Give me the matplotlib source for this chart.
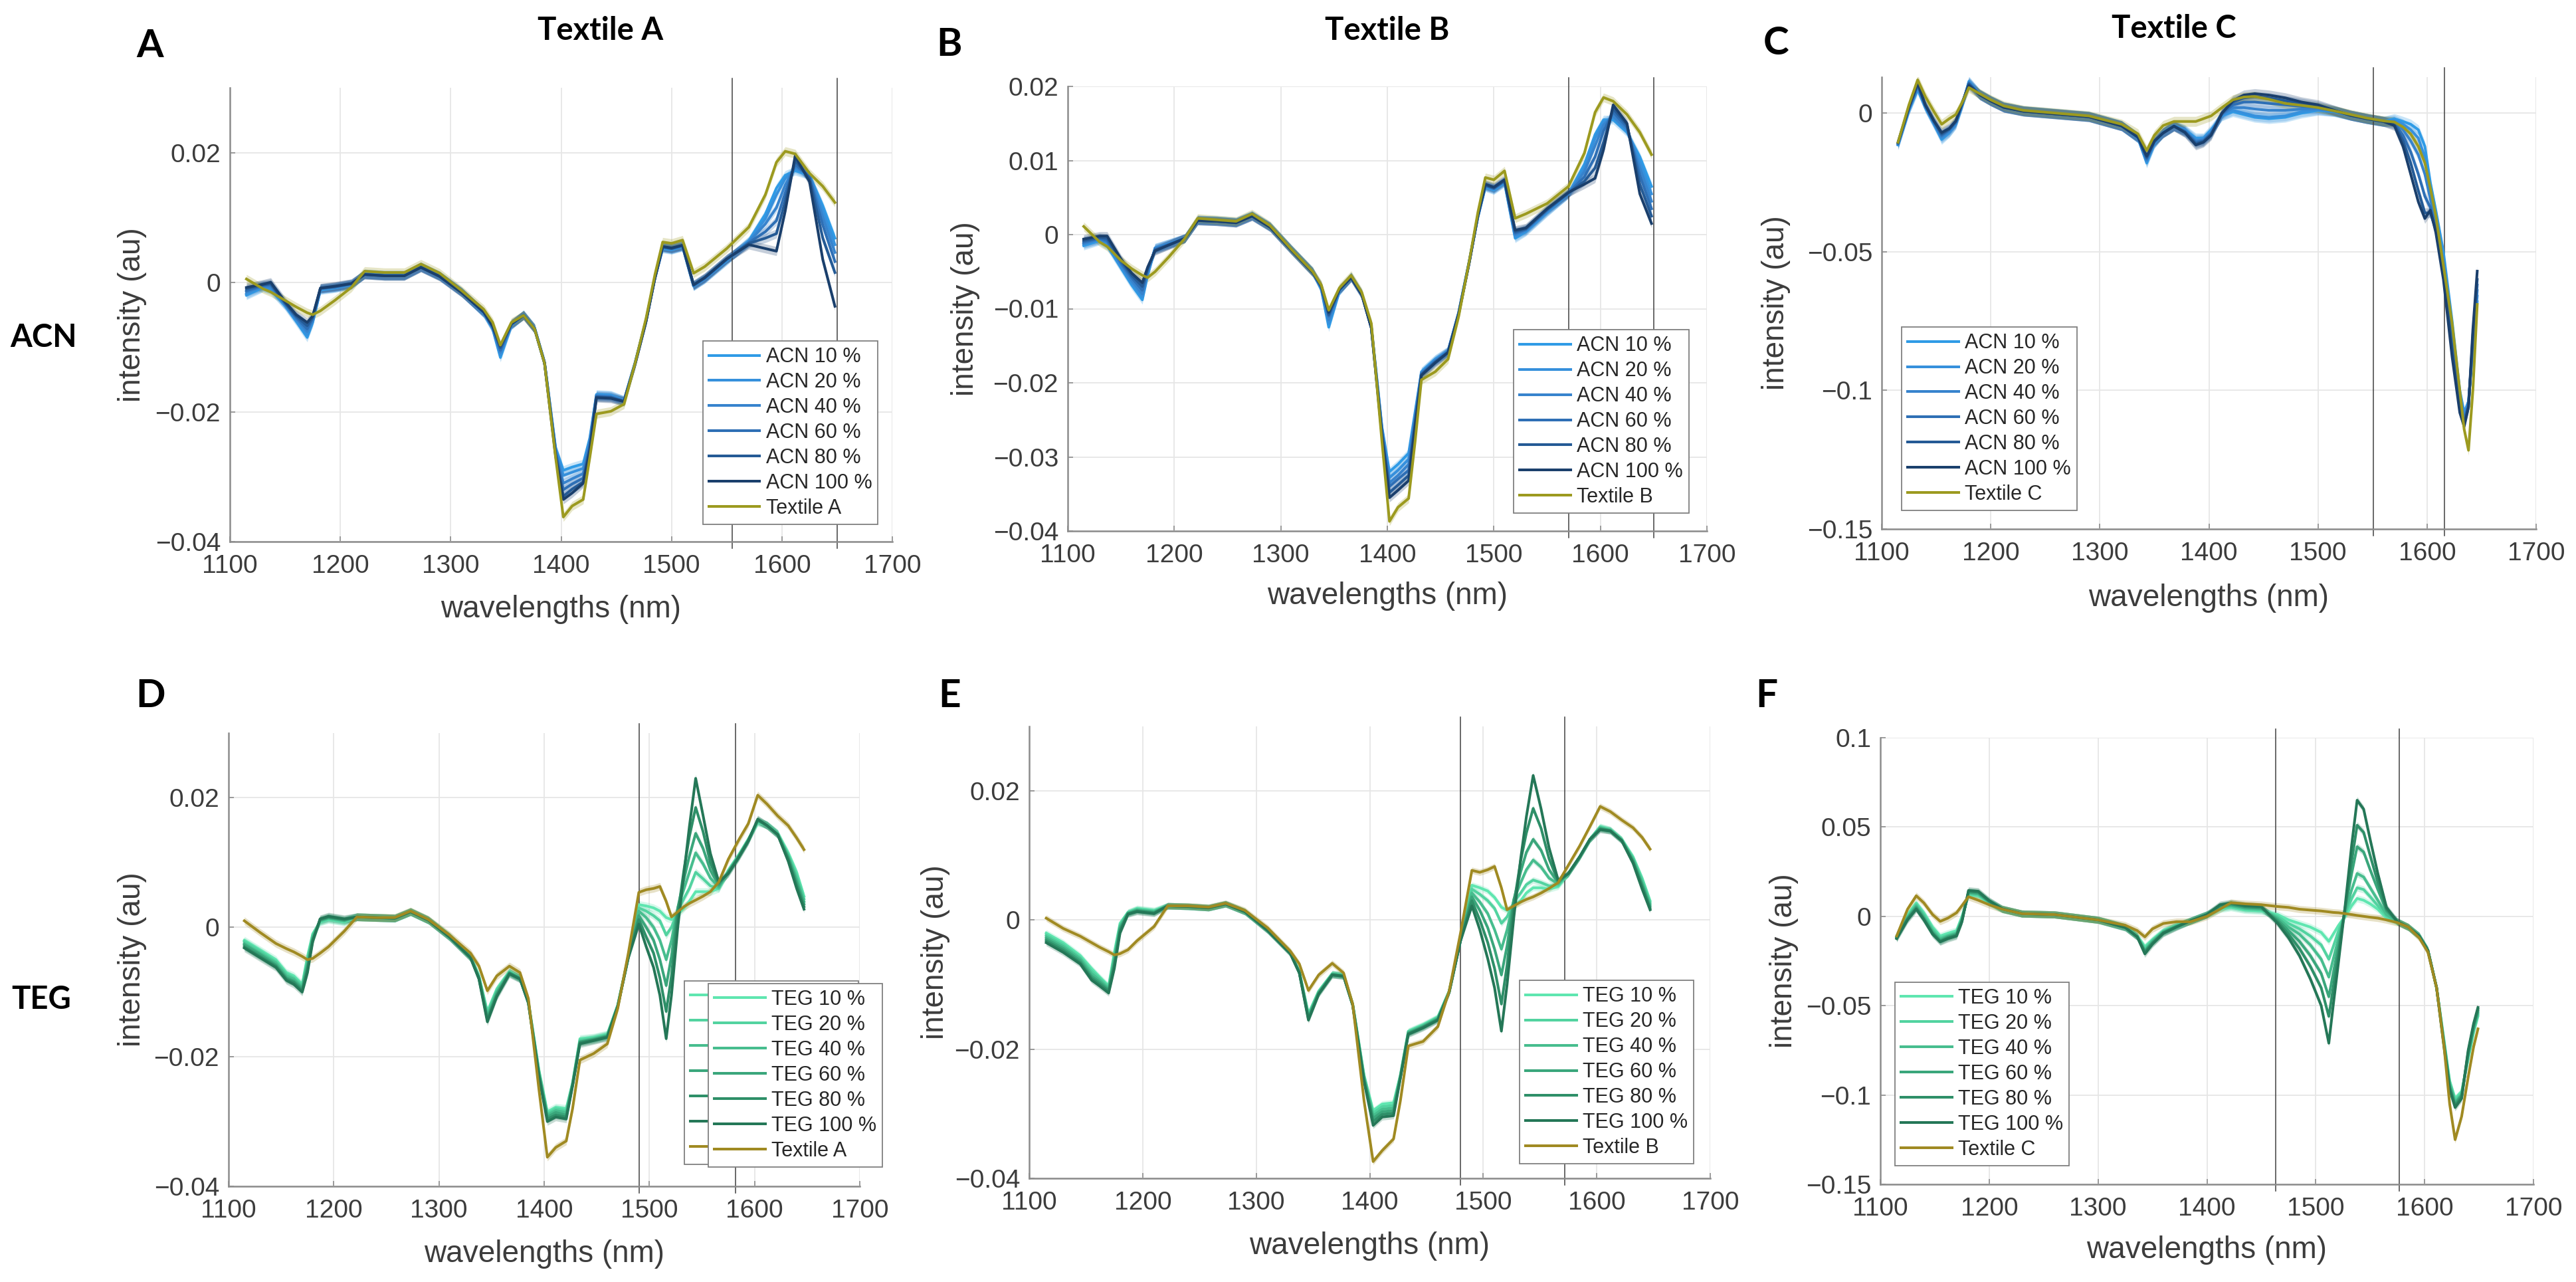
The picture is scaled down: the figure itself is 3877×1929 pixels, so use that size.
import numpy as np
import matplotlib
matplotlib.use('Agg')
import matplotlib.pyplot as plt
from matplotlib.ticker import FuncFormatter

# ------------------------------------------------------------------ data
conc_labels = ['10 %', '20 %', '40 %', '60 %', '80 %', '100 %']
textiles = ['Textile A', 'Textile B', 'Textile C']

wl_AB = [1115, 1130, 1137, 1150, 1160, 1170, 1175, 1182, 1195, 1210,
         1222, 1240, 1258, 1273, 1290, 1310, 1330, 1338, 1345, 1355,
         1366, 1376, 1385, 1395, 1402, 1410, 1420, 1426, 1432, 1445,
         1457, 1467, 1477, 1485, 1492, 1500, 1510, 1520, 1530, 1550,
         1570, 1585, 1595, 1603, 1612, 1625, 1637, 1648]

A_textile = [0.0005, -0.001, -0.0015, -0.0028, -0.0038, -0.0047, -0.005, -0.0044, -0.0028, -0.0008,
             0.0017, 0.0015, 0.0015, 0.0028, 0.0014, -0.0013, -0.0042, -0.0062, -0.0097, -0.0062,
             -0.0051, -0.0072, -0.0125, -0.027, -0.0362, -0.0345, -0.0335, -0.027, -0.0203, -0.0199,
             -0.0188, -0.0125, -0.0055, 0.0012, 0.0062, 0.006, 0.0065, 0.0014, 0.0024, 0.0052,
             0.0085, 0.0135, 0.0185, 0.0202, 0.0198, 0.0168, 0.0148, 0.0123]
A_acn10 = [-0.002, -0.0008, -0.0012, -0.0036, -0.006, -0.0085, -0.0062, -0.0012, -0.0009, -0.0004,
           0.0013, 0.0011, 0.0011, 0.0024, 0.001, -0.0015, -0.0048, -0.0072, -0.0116, -0.0066,
           -0.005, -0.0071, -0.0124, -0.0255, -0.029, -0.0285, -0.028, -0.024, -0.0173, -0.0174,
           -0.0182, -0.0124, -0.0058, 0.0008, 0.0052, 0.005, 0.0055, -0.0006, 0.0005, 0.0033,
           0.0064, 0.0105, 0.0145, 0.0165, 0.0172, 0.0165, 0.0118, 0.0068]
A_acn20 = [-0.0018, -0.0007, -0.001, -0.0035, -0.0058, -0.0081, -0.006, -0.0011, -0.0008, -0.0004,
           0.0013, 0.0011, 0.0011, 0.0024, 0.001, -0.0015, -0.0048, -0.0071, -0.0112, -0.0066,
           -0.005, -0.0071, -0.0124, -0.0257, -0.0298, -0.0293, -0.0287, -0.0244, -0.0174, -0.0175,
           -0.0182, -0.0124, -0.0058, 0.0008, 0.0053, 0.0051, 0.0055, -0.0006, 0.0005, 0.0034,
           0.0063, 0.0098, 0.0135, 0.016, 0.0175, 0.0165, 0.011, 0.0058]
A_acn40 = [-0.0015, -0.0006, -0.0007, -0.0034, -0.0056, -0.0076, -0.0058, -0.001, -0.0008, -0.0003,
           0.0013, 0.0011, 0.0011, 0.0024, 0.001, -0.0015, -0.0047, -0.007, -0.0108, -0.0065,
           -0.005, -0.0071, -0.0124, -0.026, -0.031, -0.0303, -0.0295, -0.0248, -0.0175, -0.0176,
           -0.0183, -0.0125, -0.0058, 0.0008, 0.0054, 0.0051, 0.0056, -0.0005, 0.0006, 0.0035,
           0.0062, 0.009, 0.0115, 0.015, 0.0178, 0.0165, 0.01, 0.0046]
A_acn60 = [-0.0013, -0.0005, -0.0004, -0.0033, -0.0054, -0.0072, -0.0056, -0.001, -0.0007, -0.0003,
           0.0012, 0.001, 0.001, 0.0023, 0.001, -0.0015, -0.0047, -0.0069, -0.0105, -0.0065,
           -0.0051, -0.0072, -0.0124, -0.0262, -0.032, -0.0311, -0.0302, -0.0252, -0.0176, -0.0177,
           -0.0183, -0.0125, -0.0059, 0.0007, 0.0054, 0.0052, 0.0056, -0.0005, 0.0006, 0.0035,
           0.0061, 0.0078, 0.0095, 0.0138, 0.0182, 0.0162, 0.0088, 0.0032]
A_acn80 = [-0.001, -0.0004, -0.0002, -0.0032, -0.0052, -0.0067, -0.0054, -0.0009, -0.0007, -0.0002,
           0.0012, 0.001, 0.001, 0.0023, 0.0009, -0.0016, -0.0046, -0.0068, -0.0101, -0.0064,
           -0.0051, -0.0072, -0.0125, -0.0265, -0.033, -0.0319, -0.0308, -0.0256, -0.0177, -0.0178,
           -0.0184, -0.0126, -0.0059, 0.0007, 0.0055, 0.0052, 0.0057, -0.0004, 0.0007, 0.0036,
           0.006, 0.0068, 0.0075, 0.0125, 0.0188, 0.016, 0.0068, 0.0015]
A_acn100 = [-0.0008, -0.0003, 0.0, -0.003, -0.005, -0.0062, -0.0052, -0.0009, -0.0006, -0.0002,
            0.0012, 0.001, 0.001, 0.0023, 0.0009, -0.0016, -0.0046, -0.0067, -0.0098, -0.0064,
            -0.0051, -0.0072, -0.0125, -0.0268, -0.0335, -0.0325, -0.031, -0.026, -0.0178, -0.0179,
            -0.0184, -0.0126, -0.006, 0.0007, 0.0055, 0.0053, 0.0057, -0.0004, 0.0007, 0.0036,
            0.0058, 0.0052, 0.0048, 0.011, 0.0195, 0.0155, 0.0035, -0.0037]

B_textile = [0.0011, -0.001, -0.0016, -0.0035, -0.0046, -0.0055, -0.0058, -0.005, -0.003, -0.0005,
             0.0022, 0.002, 0.0018, 0.0028, 0.0012, -0.002, -0.005, -0.0068, -0.0102, -0.0072,
             -0.0055, -0.0078, -0.012, -0.028, -0.0387, -0.0368, -0.0356, -0.028, -0.0196, -0.0185,
             -0.0168, -0.011, -0.0035, 0.003, 0.0077, 0.0074, 0.0086, 0.0022, 0.0028, 0.0042,
             0.0065, 0.011, 0.0165, 0.0185, 0.018, 0.0162, 0.0138, 0.0108]
B_acn10 = [-0.0015, -0.0008, -0.0015, -0.0045, -0.0068, -0.0088, -0.0055, -0.0018, -0.0012, -0.0005,
           0.002, 0.0019, 0.0017, 0.0026, 0.0011, -0.002, -0.005, -0.0074, -0.0125, -0.0076,
           -0.0057, -0.008, -0.0125, -0.026, -0.032, -0.031, -0.0295, -0.024, -0.0185, -0.0168,
           -0.0157, -0.0105, -0.0035, 0.0024, 0.0064, 0.006, 0.007, -0.0005, 0.0004, 0.003,
           0.0055, 0.0095, 0.0135, 0.0155, 0.0155, 0.0138, 0.0105, 0.0065]
B_acn20 = [-0.0013, -0.0007, -0.0013, -0.0043, -0.0065, -0.0084, -0.0053, -0.0018, -0.0012, -0.0005,
           0.002, 0.0019, 0.0017, 0.0026, 0.0011, -0.002, -0.005, -0.0073, -0.012, -0.0076,
           -0.0057, -0.008, -0.0125, -0.0262, -0.0328, -0.0318, -0.0303, -0.0244, -0.0186, -0.0169,
           -0.0157, -0.0105, -0.0035, 0.0024, 0.0065, 0.0061, 0.0071, -0.0003, 0.0005, 0.0031,
           0.0055, 0.009, 0.013, 0.0152, 0.0158, 0.014, 0.0098, 0.0055]
B_acn40 = [-0.0012, -0.0006, -0.001, -0.004, -0.0062, -0.008, -0.005, -0.0019, -0.0013, -0.0005,
           0.002, 0.0019, 0.0017, 0.0026, 0.0011, -0.002, -0.005, -0.0072, -0.0115, -0.0075,
           -0.0057, -0.008, -0.0125, -0.0265, -0.0335, -0.0325, -0.031, -0.0248, -0.0187, -0.017,
           -0.0158, -0.0106, -0.0036, 0.0025, 0.0066, 0.0062, 0.0072, 0.0, 0.0006, 0.0032,
           0.0055, 0.0085, 0.012, 0.0148, 0.016, 0.0142, 0.009, 0.0045]
B_acn60 = [-0.001, -0.0005, -0.0008, -0.0038, -0.0058, -0.0075, -0.0048, -0.002, -0.0013, -0.0005,
           0.0019, 0.0018, 0.0016, 0.0025, 0.001, -0.0021, -0.0051, -0.0071, -0.011, -0.0075,
           -0.0057, -0.008, -0.0126, -0.0268, -0.034, -0.033, -0.0318, -0.0252, -0.0188, -0.0171,
           -0.0158, -0.0106, -0.0036, 0.0025, 0.0066, 0.0062, 0.0072, 0.0002, 0.0007, 0.0033,
           0.0056, 0.0078, 0.0105, 0.014, 0.0165, 0.0145, 0.008, 0.0035]
B_acn80 = [-0.0008, -0.0004, -0.0005, -0.0035, -0.0055, -0.007, -0.0046, -0.0021, -0.0014, -0.0005,
           0.0019, 0.0018, 0.0016, 0.0025, 0.001, -0.0021, -0.0051, -0.007, -0.0108, -0.0074,
           -0.0058, -0.0081, -0.0126, -0.027, -0.0348, -0.0338, -0.0325, -0.0256, -0.0189, -0.0172,
           -0.0159, -0.0107, -0.0037, 0.0026, 0.0067, 0.0063, 0.0073, 0.0004, 0.0008, 0.0034,
           0.0056, 0.0072, 0.009, 0.0125, 0.017, 0.0148, 0.0068, 0.0025]
B_acn100 = [-0.0006, -0.0002, -0.0002, -0.0033, -0.0052, -0.0065, -0.0044, -0.0022, -0.0014, -0.0005,
            0.0019, 0.0018, 0.0016, 0.0025, 0.001, -0.0021, -0.0051, -0.0069, -0.0105, -0.0074,
            -0.0058, -0.0081, -0.0126, -0.0272, -0.0355, -0.0345, -0.0332, -0.026, -0.019, -0.0173,
            -0.0159, -0.0107, -0.0037, 0.0026, 0.0068, 0.0064, 0.0074, 0.0006, 0.0009, 0.0035,
            0.0057, 0.0068, 0.0076, 0.0115, 0.0175, 0.015, 0.0055, 0.0015]

wl_C = [1115, 1125, 1133, 1140, 1148, 1155, 1162, 1168, 1174, 1180,
        1190, 1200, 1212, 1230, 1260, 1290, 1320, 1335, 1343, 1350,
        1358, 1368, 1378, 1388, 1395, 1402, 1412, 1422, 1432, 1442,
        1455, 1470, 1485, 1500, 1515, 1530, 1545, 1560, 1570, 1578,
        1585, 1592, 1598, 1603, 1608, 1615, 1623, 1630, 1634, 1638,
        1642, 1646]
C_textile = [-0.0105, 0.003, 0.012, 0.006, 0.0005, -0.004, -0.002, -0.0005, 0.004, 0.0092,
             0.007, 0.0048, 0.0026, 0.001, 0.0, -0.001, -0.004, -0.0075, -0.0135, -0.008,
             -0.0045, -0.003, -0.003, -0.003, -0.002, -0.001, 0.002, 0.0048, 0.0058, 0.006,
             0.005, 0.0035, 0.0028, 0.002, 0.0008, -0.0005, -0.0018, -0.0028, -0.0032, -0.005,
             -0.0075, -0.012, -0.018, -0.027, -0.037, -0.055, -0.076, -0.1, -0.114, -0.1216,
             -0.1, -0.069]
C_acn10 = [-0.0115, 0.001, 0.0085, 0.002, -0.004, -0.0095, -0.007, -0.004, 0.003, 0.0115,
           0.0068, 0.0045, 0.0022, 0.0008, -0.0002, -0.0012, -0.0045, -0.009, -0.018, -0.011,
           -0.007, -0.0045, -0.006, -0.009, -0.009, -0.006, -0.001, 0.0005, -0.0005, -0.0015,
           -0.002, -0.0015, 0.0, 0.001, 0.0005, -0.0008, -0.002, -0.003, -0.002, -0.003,
           -0.004, -0.006, -0.012, -0.025, -0.035, -0.05, -0.075, -0.1, -0.108, -0.104,
           -0.085, -0.068]
C_acn20 = [-0.0113, 0.0012, 0.009, 0.0022, -0.0038, -0.009, -0.0068, -0.0038, 0.0032, 0.0112,
           0.0068, 0.0045, 0.0022, 0.0008, -0.0002, -0.0012, -0.0045, -0.009, -0.0175, -0.0108,
           -0.007, -0.0045, -0.0062, -0.0095, -0.0093, -0.0065, -0.0008, 0.001, 0.0, -0.001,
           -0.0015, -0.001, 0.0005, 0.0012, 0.0006, -0.0008, -0.002, -0.003, -0.0025, -0.004,
           -0.006, -0.009, -0.016, -0.028, -0.037, -0.052, -0.077, -0.101, -0.109, -0.104,
           -0.084, -0.066]
C_acn40 = [-0.0111, 0.0015, 0.0095, 0.0025, -0.0035, -0.0085, -0.0065, -0.0035, 0.0034, 0.011,
           0.0067, 0.0045, 0.0022, 0.0008, -0.0002, -0.0012, -0.0045, -0.0088, -0.017, -0.0106,
           -0.007, -0.0046, -0.0064, -0.01, -0.0096, -0.007, -0.0005, 0.002, 0.002, 0.0015,
           0.001, 0.001, 0.0015, 0.0015, 0.0007, -0.0008, -0.002, -0.003, -0.003, -0.006,
           -0.01, -0.015, -0.022, -0.031, -0.039, -0.054, -0.079, -0.102, -0.11, -0.105,
           -0.083, -0.064]
C_acn60 = [-0.0109, 0.0018, 0.01, 0.0027, -0.0032, -0.008, -0.006, -0.0033, 0.0036, 0.0108,
           0.0067, 0.0044, 0.0021, 0.0007, -0.0003, -0.0013, -0.0046, -0.0088, -0.0165, -0.0104,
           -0.0071, -0.0046, -0.0066, -0.0105, -0.0099, -0.0073, -0.0003, 0.003, 0.004, 0.004,
           0.0035, 0.003, 0.0025, 0.002, 0.0008, -0.0008, -0.002, -0.003, -0.0035, -0.008,
           -0.014, -0.022, -0.03, -0.034, -0.041, -0.056, -0.082, -0.104, -0.111, -0.105,
           -0.082, -0.062]
C_acn80 = [-0.0107, 0.002, 0.0105, 0.0029, -0.003, -0.0075, -0.0058, -0.003, 0.0038, 0.0105,
           0.0066, 0.0044, 0.0021, 0.0007, -0.0003, -0.0013, -0.0046, -0.0087, -0.016, -0.0102,
           -0.0071, -0.0047, -0.0068, -0.011, -0.0102, -0.0076, 0.0, 0.004, 0.0055, 0.006,
           0.0055, 0.0045, 0.0035, 0.0025, 0.0009, -0.0008, -0.002, -0.003, -0.004, -0.01,
           -0.018, -0.028, -0.036, -0.036, -0.042, -0.058, -0.085, -0.106, -0.112, -0.106,
           -0.08, -0.06]
C_acn100 = [-0.0105, 0.0022, 0.011, 0.003, -0.0028, -0.007, -0.0055, -0.0028, 0.004, 0.01,
            0.0066, 0.0044, 0.0021, 0.0007, -0.0003, -0.0013, -0.0046, -0.0087, -0.0155, -0.01,
            -0.0072, -0.0047, -0.007, -0.0115, -0.0105, -0.008, 0.0, 0.0045, 0.0065, 0.007,
            0.0065, 0.0055, 0.004, 0.003, 0.001, -0.0008, -0.002, -0.003, -0.0045, -0.012,
            -0.022, -0.032, -0.038, -0.035, -0.043, -0.06, -0.088, -0.108, -0.113, -0.106,
            -0.078, -0.057]

wl_DE = [1115, 1130, 1145, 1155, 1162, 1170, 1175, 1180, 1187, 1195,
         1210, 1222, 1240, 1258, 1273, 1290, 1310, 1330, 1338, 1346,
         1355, 1367, 1377, 1385, 1395, 1403, 1411, 1421, 1427, 1434,
         1447, 1460, 1470, 1480, 1490, 1497, 1504, 1510, 1516, 1521,
         1527, 1533, 1538, 1544, 1551, 1558, 1566, 1575, 1585, 1594,
         1603, 1612, 1622, 1632, 1640, 1647]

D_textile = [0.001, -0.0008, -0.0025, -0.0033, -0.0038, -0.0045, -0.005, -0.0048, -0.004, -0.003,
             -0.0006, 0.0016, 0.0015, 0.0015, 0.0025, 0.0012, -0.0012, -0.004, -0.006, -0.0098,
             -0.0075, -0.006, -0.007, -0.011, -0.025, -0.0355, -0.034, -0.033, -0.028, -0.0205,
             -0.0195, -0.018, -0.0125, -0.004, 0.0054, 0.0058, 0.006, 0.0063, 0.004, 0.0016,
             0.0024, 0.0032, 0.0037, 0.0042, 0.0048, 0.0055, 0.007, 0.0105, 0.0135, 0.016,
             0.0204, 0.019, 0.0172, 0.0157, 0.0138, 0.012]
D_teg10 = [-0.002, -0.0035, -0.005, -0.007, -0.0075, -0.0088, -0.0045, -0.001, 0.0008, 0.0012,
           0.0008, 0.0016, 0.0015, 0.0014, 0.0024, 0.0011, -0.0014, -0.0045, -0.0075, -0.013,
           -0.0095, -0.0068, -0.0078, -0.0115, -0.022, -0.0285, -0.0278, -0.028, -0.024, -0.0172,
           -0.017, -0.0165, -0.012, -0.0045, 0.0035, 0.0033, 0.003, 0.0025, 0.0015, 0.0012,
           0.002, 0.003, 0.004, 0.0055, 0.0055, 0.0055, 0.006, 0.0088, 0.0112, 0.0136,
           0.0162, 0.0158, 0.0145, 0.0115, 0.0085, 0.0048]
D_teg20 = [-0.0022, -0.0037, -0.0053, -0.0072, -0.0078, -0.009, -0.005, -0.0012, 0.0009, 0.0013,
           0.0009, 0.0016, 0.0015, 0.0014, 0.0024, 0.0011, -0.0014, -0.0045, -0.0076, -0.0133,
           -0.0097, -0.0069, -0.0078, -0.0115, -0.0222, -0.0288, -0.028, -0.0283, -0.0241, -0.0174,
           -0.0171, -0.0166, -0.012, -0.0045, 0.003, 0.0025, 0.0018, 0.001, -0.0012, 0.0,
           0.0025, 0.0045, 0.006, 0.0085, 0.0075, 0.0064, 0.006, 0.0087, 0.0111, 0.0135,
           0.0163, 0.0158, 0.0145, 0.0112, 0.008, 0.0044]
D_teg40 = [-0.0025, -0.004, -0.0055, -0.0075, -0.008, -0.0093, -0.0055, -0.0015, 0.001, 0.0014,
           0.001, 0.0016, 0.0015, 0.0014, 0.0024, 0.0011, -0.0014, -0.0046, -0.0077, -0.0137,
           -0.01, -0.007, -0.0078, -0.0116, -0.0224, -0.029, -0.0283, -0.0286, -0.0242, -0.0176,
           -0.0172, -0.0167, -0.0121, -0.0045, 0.0025, 0.0015, 0.0, -0.002, -0.005, -0.002,
           0.003, 0.006, 0.0085, 0.0115, 0.0098, 0.0076, 0.0062, 0.0086, 0.011, 0.0135,
           0.0164, 0.0158, 0.0144, 0.011, 0.0075, 0.004]
D_teg60 = [-0.0027, -0.0042, -0.0058, -0.0078, -0.0083, -0.0095, -0.006, -0.0018, 0.0011, 0.0015,
           0.0011, 0.0016, 0.0015, 0.0014, 0.0024, 0.0011, -0.0015, -0.0046, -0.0078, -0.014,
           -0.0102, -0.007, -0.0079, -0.0116, -0.0226, -0.0293, -0.0286, -0.029, -0.0243, -0.0177,
           -0.0173, -0.0168, -0.0121, -0.0046, 0.0018, 0.0, -0.002, -0.005, -0.009, -0.0045,
           0.003, 0.0075, 0.011, 0.0145, 0.0122, 0.0088, 0.0065, 0.0085, 0.011, 0.0134,
           0.0165, 0.0157, 0.0144, 0.0108, 0.007, 0.0036]
D_teg80 = [-0.003, -0.0045, -0.006, -0.008, -0.0085, -0.0098, -0.0065, -0.002, 0.0012, 0.0016,
           0.0012, 0.0016, 0.0015, 0.0014, 0.0024, 0.0011, -0.0015, -0.0047, -0.0079, -0.0143,
           -0.0105, -0.0071, -0.0079, -0.0117, -0.0228, -0.0296, -0.029, -0.0293, -0.0244, -0.0178,
           -0.0174, -0.0169, -0.0122, -0.0046, 0.0012, -0.0015, -0.004, -0.0078, -0.013, -0.0075,
           0.002, 0.009, 0.014, 0.0185, 0.0148, 0.01, 0.0068, 0.0084, 0.0109, 0.0134,
           0.0166, 0.0157, 0.0143, 0.0105, 0.0065, 0.0032]
D_teg100 = [-0.0032, -0.0047, -0.0062, -0.0082, -0.0088, -0.01, -0.007, -0.0022, 0.0013, 0.0017,
            0.0013, 0.0016, 0.0015, 0.0014, 0.0024, 0.0011, -0.0015, -0.0047, -0.008, -0.0146,
            -0.0107, -0.0072, -0.008, -0.0117, -0.023, -0.03, -0.0293, -0.0296, -0.0245, -0.018,
            -0.0175, -0.017, -0.0122, -0.0047, 0.0005, -0.003, -0.0062, -0.0105, -0.0172, -0.0105,
            0.0, 0.0085, 0.0155, 0.023, 0.0173, 0.0114, 0.007, 0.0083, 0.0108, 0.0133,
            0.0167, 0.0157, 0.0143, 0.0102, 0.006, 0.0028]

E_textile = [0.0003, -0.0013, -0.0025, -0.0035, -0.0042, -0.0049, -0.0054, -0.0052, -0.0046, -0.0032,
             -0.001, 0.0022, 0.0022, 0.002, 0.0026, 0.0015, -0.0012, -0.0048, -0.0068, -0.0109,
             -0.0085, -0.0067, -0.0082, -0.013, -0.028, -0.0374, -0.0357, -0.0339, -0.028, -0.0195,
             -0.0188, -0.0165, -0.011, -0.002, 0.0077, 0.0074, 0.0078, 0.0083, 0.005, 0.0016,
             0.0022, 0.0028, 0.0032, 0.0036, 0.0042, 0.0049, 0.0058, 0.0085, 0.0115, 0.0145,
             0.0176, 0.0168, 0.0155, 0.0143, 0.0128, 0.011]
E_teg10 = [-0.002, -0.0035, -0.0055, -0.0075, -0.0088, -0.0102, -0.005, -0.0005, 0.0012, 0.0018,
           0.0015, 0.0022, 0.0021, 0.0019, 0.0025, 0.0013, -0.0015, -0.005, -0.008, -0.0145,
           -0.011, -0.0083, -0.0085, -0.013, -0.024, -0.0295, -0.0285, -0.0283, -0.024, -0.0172,
           -0.0162, -0.015, -0.011, -0.003, 0.0054, 0.005, 0.0045, 0.0035, 0.002, 0.0015,
           0.0022, 0.003, 0.0042, 0.005, 0.005, 0.0048, 0.0052, 0.0072, 0.0098, 0.0125,
           0.0145, 0.014, 0.0125, 0.0098, 0.0065, 0.003]
E_teg20 = [-0.0023, -0.0038, -0.0058, -0.0079, -0.009, -0.0104, -0.0055, -0.0008, 0.0012, 0.0017,
           0.0014, 0.0022, 0.0021, 0.0019, 0.0025, 0.0013, -0.0015, -0.005, -0.008, -0.0147,
           -0.0111, -0.0083, -0.0085, -0.013, -0.0242, -0.0299, -0.0289, -0.0287, -0.0241, -0.0173,
           -0.0163, -0.0151, -0.011, -0.003, 0.0048, 0.004, 0.003, 0.0018, -0.0005, 0.0005,
           0.0028, 0.0042, 0.0055, 0.0062, 0.0058, 0.0053, 0.0054, 0.0072, 0.0098, 0.0125,
           0.0144, 0.014, 0.0125, 0.0096, 0.0062, 0.0027]
E_teg40 = [-0.0026, -0.0041, -0.006, -0.0083, -0.0093, -0.0106, -0.006, -0.001, 0.0011, 0.0016,
           0.0013, 0.0022, 0.0021, 0.0019, 0.0025, 0.0013, -0.0015, -0.005, -0.0081, -0.0149,
           -0.0112, -0.0084, -0.0086, -0.0131, -0.0244, -0.0303, -0.0293, -0.0291, -0.0242, -0.0174,
           -0.0164, -0.0152, -0.0111, -0.0031, 0.0042, 0.0028, 0.001, -0.0015, -0.0045, -0.0015,
           0.0032, 0.0058, 0.0078, 0.0093, 0.0082, 0.0065, 0.0056, 0.0072, 0.0098, 0.0125,
           0.0143, 0.0139, 0.0124, 0.0094, 0.0058, 0.0024]
E_teg60 = [-0.0029, -0.0044, -0.0063, -0.0087, -0.0096, -0.0108, -0.0065, -0.0013, 0.001, 0.0015,
           0.0012, 0.0022, 0.0021, 0.0019, 0.0025, 0.0013, -0.0016, -0.0051, -0.0081, -0.0151,
           -0.0113, -0.0084, -0.0086, -0.0131, -0.0246, -0.0307, -0.0297, -0.0295, -0.0243, -0.0175,
           -0.0165, -0.0153, -0.0111, -0.0031, 0.0036, 0.0015, -0.0012, -0.0045, -0.0085, -0.004,
           0.0032, 0.0075, 0.0105, 0.0125, 0.0108, 0.0078, 0.0058, 0.0072, 0.0098, 0.0125,
           0.0142, 0.0139, 0.0124, 0.0092, 0.0055, 0.0021]
E_teg80 = [-0.0032, -0.0047, -0.0066, -0.009, -0.0099, -0.011, -0.007, -0.0016, 0.001, 0.0014,
           0.0011, 0.0022, 0.0021, 0.0019, 0.0025, 0.0013, -0.0016, -0.0051, -0.0082, -0.0153,
           -0.0114, -0.0085, -0.0087, -0.0132, -0.0248, -0.0312, -0.0301, -0.0299, -0.0244, -0.0176,
           -0.0166, -0.0154, -0.0112, -0.0032, 0.003, 0.0, -0.0035, -0.0075, -0.013, -0.007,
           0.0025, 0.0092, 0.0135, 0.0173, 0.0142, 0.0095, 0.006, 0.0072, 0.0098, 0.0125,
           0.0141, 0.0138, 0.0123, 0.009, 0.0052, 0.0018]
E_teg100 = [-0.0035, -0.005, -0.0068, -0.0093, -0.0102, -0.0113, -0.0075, -0.002, 0.0009, 0.0013,
            0.001, 0.0022, 0.0021, 0.0019, 0.0025, 0.0013, -0.0016, -0.0052, -0.0082, -0.0155,
            -0.0115, -0.0085, -0.0087, -0.0132, -0.025, -0.0318, -0.0305, -0.0303, -0.0245, -0.0177,
            -0.0167, -0.0155, -0.0112, -0.0032, 0.0022, -0.0015, -0.006, -0.0105, -0.0172, -0.01,
            0.0005, 0.0095, 0.016, 0.0224, 0.0172, 0.0112, 0.0062, 0.0072, 0.0098, 0.0125,
            0.014, 0.0138, 0.0123, 0.0088, 0.0048, 0.0016]

wl_F = [1115, 1125, 1133, 1140, 1148, 1155, 1162, 1170, 1175, 1181,
        1190, 1200, 1212, 1230, 1260, 1300, 1325, 1336, 1343, 1350,
        1360, 1372, 1385, 1400, 1412, 1422, 1435, 1450,
        1465, 1475, 1485, 1495, 1505, 1512, 1516, 1521, 1527, 1533, 1538, 1544,
        1550, 1557, 1565, 1575, 1585,
        1595, 1603, 1611, 1618, 1623, 1628, 1634, 1640, 1645, 1649]
F_textile = [-0.011, 0.004, 0.0115, 0.0075, 0.001, -0.0028, -0.001, 0.002, 0.006, 0.011,
             0.009, 0.0065, 0.004, 0.0015, 0.001, -0.002, -0.005, -0.008, -0.0115, -0.007,
             -0.004, -0.003, -0.003, 0.0, 0.004, 0.0076, 0.007, 0.0065,
             0.0055, 0.005, 0.004, 0.0035, 0.003, 0.0025, 0.0022, 0.002, 0.0015, 0.001, 0.0005, 0.0,
             -0.0005, -0.001, -0.002, -0.0035, -0.006,
             -0.012, -0.02, -0.04, -0.074, -0.105, -0.125, -0.112, -0.09, -0.073, -0.063]
F_teg10 = [-0.011, 0.001, 0.0075, 0.002, -0.006, -0.011, -0.0095, -0.008, 0.0, 0.012,
           0.0115, 0.0075, 0.004, 0.0015, 0.001, -0.002, -0.006, -0.011, -0.017, -0.013,
           -0.008, -0.005, -0.0025, 0.001, 0.004, 0.005, 0.0035, 0.003,
           0.001, -0.002, -0.004, -0.006, -0.009, -0.014, -0.01, -0.005, 0.0, 0.006, 0.01, 0.009,
           0.007, 0.004, -0.001, -0.003, -0.006,
           -0.011, -0.019, -0.04, -0.07, -0.092, -0.102, -0.098, -0.08, -0.065, -0.056]
F_teg20 = [-0.0113, 0.0, 0.0068, 0.001, -0.007, -0.012, -0.0105, -0.009, -0.001, 0.0125,
           0.012, 0.0078, 0.004, 0.0015, 0.001, -0.002, -0.006, -0.011, -0.018, -0.0135,
           -0.0083, -0.0052, -0.0025, 0.001, 0.0045, 0.0055, 0.004, 0.0035,
           0.0, -0.004, -0.007, -0.011, -0.016, -0.024, -0.017, -0.008, 0.001, 0.01, 0.016, 0.015,
           0.011, 0.006, 0.0, -0.003, -0.006,
           -0.011, -0.019, -0.04, -0.071, -0.093, -0.103, -0.099, -0.079, -0.064, -0.055]
F_teg40 = [-0.0116, -0.0005, 0.006, 0.0, -0.008, -0.0128, -0.011, -0.0095, -0.0015, 0.013,
           0.0125, 0.008, 0.004, 0.0015, 0.001, -0.002, -0.006, -0.0112, -0.019, -0.014,
           -0.0086, -0.0054, -0.0025, 0.001, 0.005, 0.006, 0.0045, 0.004,
           -0.001, -0.006, -0.01, -0.016, -0.024, -0.034, -0.024, -0.012, 0.002, 0.015, 0.024, 0.022,
           0.016, 0.009, 0.001, -0.003, -0.006,
           -0.011, -0.019, -0.04, -0.072, -0.094, -0.104, -0.1, -0.078, -0.063, -0.054]
F_teg60 = [-0.0119, -0.001, 0.0052, -0.001, -0.009, -0.0135, -0.0115, -0.01, -0.002, 0.0135,
           0.013, 0.0082, 0.0041, 0.0015, 0.001, -0.002, -0.0062, -0.0113, -0.0195, -0.0145,
           -0.0089, -0.0056, -0.0025, 0.001, 0.0055, 0.0065, 0.005, 0.0045,
           -0.002, -0.008, -0.014, -0.022, -0.032, -0.045, -0.032, -0.016, 0.004, 0.024, 0.039, 0.036,
           0.026, 0.015, 0.003, -0.003, -0.006,
           -0.011, -0.019, -0.04, -0.072, -0.095, -0.105, -0.1, -0.077, -0.062, -0.053]
F_teg80 = [-0.0122, -0.0015, 0.0045, -0.0015, -0.0095, -0.014, -0.012, -0.0105, -0.0025, 0.014,
           0.0135, 0.0085, 0.0041, 0.0015, 0.001, -0.002, -0.0062, -0.0114, -0.02, -0.015,
           -0.0092, -0.0058, -0.0025, 0.001, 0.006, 0.007, 0.0055, 0.005,
           -0.003, -0.01, -0.018, -0.028, -0.04, -0.056, -0.04, -0.02, 0.005, 0.031, 0.051, 0.047,
           0.034, 0.019, 0.004, -0.003, -0.006,
           -0.011, -0.019, -0.04, -0.073, -0.096, -0.106, -0.101, -0.076, -0.061, -0.052]
F_teg100 = [-0.0125, -0.002, 0.004, -0.002, -0.01, -0.0143, -0.0125, -0.011, -0.003, 0.0145,
            0.014, 0.0088, 0.0042, 0.0015, 0.001, -0.002, -0.0063, -0.0115, -0.021, -0.0155,
            -0.0095, -0.006, -0.0025, 0.001, 0.0065, 0.0075, 0.006, 0.0055,
            -0.004, -0.012, -0.022, -0.035, -0.05, -0.071, -0.05, -0.025, 0.006, 0.04, 0.065, 0.06,
            0.043, 0.024, 0.005, -0.003, -0.006,
            -0.011, -0.019, -0.04, -0.074, -0.097, -0.107, -0.102, -0.075, -0.06, -0.051]

# half-width of the shaded spread around each mean curve (per panel)
band_half = {'A': 0.0007, 'B': 0.0006, 'C': 0.0018, 'D': 0.0006, 'E': 0.0005, 'F': 0.002}
# positions of the two dark marker lines (nm) in every panel
marks_A = [1555, 1650]
marks_B = [1570, 1650]
marks_C = [1551, 1616]
marks_D = [1490, 1582]
marks_E = [1480, 1572]
marks_F = [1463, 1577]

# ------------------------------------------------------------------ style
acn_colors = ['#2f9be6', '#3690dc', '#3783cd', '#2e6fb5', '#245a95', '#1a3f6c']
teg_colors = ['#5fe6b0', '#52d3a0', '#47bd8e', '#3aa67b', '#2e8f68', '#247757']
textile_col_top = '#9c9a1f'
textile_col_bot = '#a08a22'

W, H, DPI = 3877, 1929, 100
fig = plt.figure(figsize=(W / DPI, H / DPI), dpi=DPI)
fig.patch.set_facecolor('white')
plt.rcParams['font.family'] = ['Liberation Sans', 'DejaVu Sans']
BOLD = ['Lato', 'Open Sans', 'DejaVu Sans']


def fmt(v, pos):
    v = round(v, 4)
    if abs(v) < 1e-12:
        return '0'
    return ('%g' % v).replace('-', '\u2212')


def rect(x0, y0, x1, y1):
    return [x0 / W, 1 - y1 / H, (x1 - x0) / W, (y1 - y0) / H]


def panel(r, wl, series, labels, colors, band, ylim, yticks, marks,
          leg_xy, ylab_x, xlab_y, back_leg_xy=None):
    ax = fig.add_axes(r)
    wl = np.asarray(wl, float)
    for v, c in zip(series, colors):
        v = np.asarray(v, float)
        ax.fill_between(wl, v - band, v + band, color=c, alpha=0.25, lw=0, zorder=2)
    for m in marks:
        ax.axvline(m, ymin=-0.015, ymax=1.02, color='#404040', lw=1.1,
                   clip_on=False, zorder=2.5)
    handles = []
    for v, lab, c in zip(series, labels, colors):
        ln, = ax.plot(wl, np.asarray(v, float), color=c, lw=2.9, label=lab, zorder=3,
                      solid_joinstyle='round')
        handles.append(ln)
    ax.set_xlim(1100, 1700)
    ax.set_xticks(np.arange(1100, 1701, 100))
    ax.set_ylim(*ylim)
    ax.set_yticks(yticks)
    ax.yaxis.set_major_formatter(FuncFormatter(fmt))
    ax.grid(True, color='#e6e6e6', lw=1.3, zorder=0)
    ax.set_axisbelow(True)
    for s in ['top', 'right']:
        ax.spines[s].set_visible(False)
    for s in ['left', 'bottom']:
        ax.spines[s].set_color('#8c8c8c')
        ax.spines[s].set_linewidth(1.8)
    ax.tick_params(axis='both', direction='in', length=6, width=1.2,
                   color='#8c8c8c', labelcolor='#3c3c3c', labelsize=28)
    ax.tick_params(axis='x', pad=14)
    ax.tick_params(axis='y', pad=10)
    ax.set_xlabel('wavelengths (nm)', fontsize=33, color='#3c3c3c')
    ax.set_ylabel('intensity (au)', fontsize=33, color='#3c3c3c')
    ax.xaxis.label.set_va('center')
    ax.yaxis.label.set_va('center')
    ax.xaxis.set_label_coords(0.5, xlab_y)
    ax.yaxis.set_label_coords(ylab_x, 0.5)

    kw = dict(loc='lower left', bbox_transform=ax.transAxes, borderaxespad=0,
              fontsize=22, handlelength=2.5, handletextpad=0.3, labelspacing=0.26,
              borderpad=0.3, frameon=True, fancybox=False, edgecolor='#808080',
              framealpha=1, facecolor='white')
    if back_leg_xy is not None:
        back = ax.legend(handles=handles, labels=labels, bbox_to_anchor=back_leg_xy, **kw)
        back.get_frame().set_linewidth(1.3)
        for t in back.get_texts():
            t.set_color('#262626')
        back.set_zorder(5)
        ax.add_artist(back)
    leg = ax.legend(handles=handles, labels=labels, bbox_to_anchor=leg_xy, **kw)
    leg.get_frame().set_linewidth(1.3)
    for t in leg.get_texts():
        t.set_color('#262626')
    leg.set_zorder(6)
    return ax


acn_labels = ['ACN ' + c for c in conc_labels]
teg_labels = ['TEG ' + c for c in conc_labels]

panel(rect(346, 132, 1343, 815), wl_AB,
      [A_acn10, A_acn20, A_acn40, A_acn60, A_acn80, A_acn100, A_textile],
      acn_labels + [textiles[0]], acn_colors + [textile_col_top], band_half['A'],
      (-0.04, 0.03), [-0.04, -0.02, 0, 0.02], marks_A, (0.714, 0.038), -0.147, -0.15)
panel(rect(1607, 130, 2569, 799), wl_AB,
      [B_acn10, B_acn20, B_acn40, B_acn60, B_acn80, B_acn100, B_textile],
      acn_labels + [textiles[1]], acn_colors + [textile_col_top], band_half['B'],
      (-0.04, 0.02), [-0.04, -0.03, -0.02, -0.01, 0, 0.01, 0.02], marks_B,
      (0.6975, 0.040), -0.16, -0.146)
panel(rect(2832, 116, 3817, 796), wl_C,
      [C_acn10, C_acn20, C_acn40, C_acn60, C_acn80, C_acn100, C_textile],
      acn_labels + [textiles[2]], acn_colors + [textile_col_top], band_half['C'],
      (-0.15, 0.013), [-0.15, -0.1, -0.05, 0], marks_C, (0.0305, 0.041), -0.161, -0.153)
panel(rect(344, 1103, 1294, 1785), wl_DE,
      [D_teg10, D_teg20, D_teg40, D_teg60, D_teg80, D_teg100, D_textile],
      teg_labels + [textiles[0]], teg_colors + [textile_col_bot], band_half['D'],
      (-0.04, 0.03), [-0.04, -0.02, 0, 0.02], marks_D, (0.76, 0.0425), -0.153, -0.15,
      back_leg_xy=(0.7221, 0.0484))
panel(rect(1549, 1093, 2574, 1773), wl_DE,
      [E_teg10, E_teg20, E_teg40, E_teg60, E_teg80, E_teg100, E_textile],
      teg_labels + [textiles[1]], teg_colors + [textile_col_bot], band_half['E'],
      (-0.04, 0.03), [-0.04, -0.02, 0, 0.02], marks_E, (0.72, 0.032), -0.1376, -0.15)
panel(rect(2830, 1110, 3813, 1782), wl_F,
      [F_teg10, F_teg20, F_teg40, F_teg60, F_teg80, F_teg100, F_textile],
      teg_labels + [textiles[2]], teg_colors + [textile_col_bot], band_half['F'],
      (-0.15, 0.1), [-0.15, -0.1, -0.05, 0, 0.05, 0.1], marks_F, (0.0224, 0.042),
      -0.1475, -0.147)

# ------------------------------------------------------------------ annotations
def ftext(x, y, s, size):
    fig.text(x / W, 1 - y / H, s, ha='center', va='center', fontsize=size,
             fontweight='bold', family=BOLD, color='black')

ftext(904, 46, textiles[0], 34)
ftext(2088, 46, textiles[1], 34)
ftext(3272, 43, textiles[2], 34)
for letter, (x, y) in zip('ABCDEF', [(226, 69), (1429, 67), (2673, 65),
                                     (226, 1047), (1429, 1047), (2659, 1047)]):
    ftext(x, y, letter, 42)
ftext(66, 508, 'ACN', 34)
ftext(62, 1504, 'TEG', 34)

fig.savefig('out.png', dpi=DPI, facecolor='white')
